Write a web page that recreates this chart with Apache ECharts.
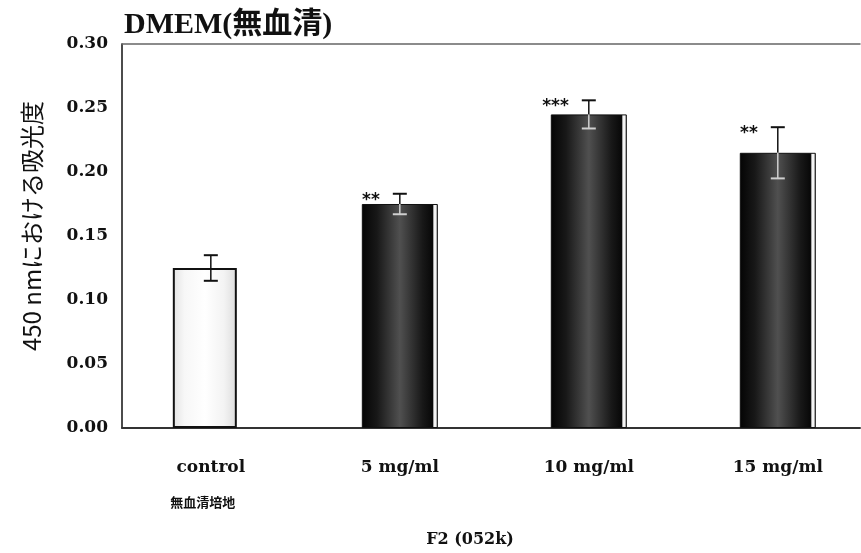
<!DOCTYPE html>
<html>
<head>
<meta charset="utf-8">
<script src="https://cdn.jsdelivr.net/npm/echarts@6/dist/echarts.min.js"></script>
<style>
  html, body { margin: 0; padding: 0; background: #fff; }
  #chart { width: 861px; height: 553px; }
</style>
</head>
<body>
<div id="chart"></div>
<script>
// Absorbance at 450 nm, DMEM without serum, F2 (052k) doses
const categories = ['control', '5 mg/ml', '10 mg/ml', '15 mg/ml'];
const subLabels = ['無血清培地', '', '', ''];
const absorbance = [0.125, 0.175, 0.245, 0.215];
const errors = [0.010, 0.008, 0.011, 0.020];
const significance = ['', '**', '***', '**'];

const titleSerif = '"Liberation Serif", "DejaVu Serif", "Noto Sans CJK JP", serif';
const serif = '"DejaVu Serif", "Liberation Serif", "Noto Sans CJK JP", serif';
const gothic = '"Noto Sans CJK JP", "Noto Sans", sans-serif';

const chart = echarts.init(document.getElementById('chart'));

// control bar: white with a faint grey stipple near its edges
const controlFill = new echarts.graphic.LinearGradient(0, 0, 1, 0, [
  { offset: 0, color: '#e2e2e2' },
  { offset: 0.18, color: '#f7f7f7' },
  { offset: 0.5, color: '#ffffff' },
  { offset: 0.8, color: '#f3f3f3' },
  { offset: 1, color: '#dcdcdc' }
]);
// treated bars: black edges, mottled grey middle, thin light strip at the right
const doseFill = new echarts.graphic.LinearGradient(0, 0, 1, 0, [
  { offset: 0, color: '#040404' },
  { offset: 0.2, color: '#181818' },
  { offset: 0.5, color: '#505050' },
  { offset: 0.8, color: '#181818' },
  { offset: 0.93, color: '#080808' },
  { offset: 0.95, color: '#f4f4f4' },
  { offset: 0.98, color: '#f4f4f4' },
  { offset: 1, color: '#000000' }
]);

const categoryIndex = categories.map((c, i) => i);
const controlData = absorbance.map((v, i) => i === 0 ? [i, v] : [i, '-']);
const doseData = absorbance.map((v, i) => i === 0 ? [i, '-'] : [i, v]);
const errData = absorbance.map((v, i) => [i, v, errors[i]]);

const xMin = -0.47;
const xMax = 3.435;

const option = {
  animation: false,
  backgroundColor: '#ffffff',
  title: {
    text: 'DMEM(無血清)',
    left: 119,
    top: 5,
    textStyle: { fontFamily: titleSerif, fontSize: 30, fontWeight: 'bold', color: '#111' }
  },
  grid: { left: 122, right: 1, top: 44, bottom: 121 },
  xAxis: [
    {
      type: 'value',
      min: xMin,
      max: xMax,
      position: 'bottom',
      name: 'F2 (052k)',
      nameLocation: 'middle',
      nameGap: 104,
      nameTextStyle: { fontFamily: serif, fontSize: 16, fontWeight: 'bold', color: '#111', padding: [0, 42, 0, 0] },
      axisLine: { show: true, onZero: false, lineStyle: { color: '#333', width: 2 } },
      axisTick: { show: false },
      splitLine: { show: false },
      axisLabel: {
        customValues: categoryIndex,
        margin: 24,
        formatter: function (v) {
          const i = Math.round(v);
          if (i < 0 || i >= categories.length) return '';
          return subLabels[i] ? categories[i] + '\n{s|' + subLabels[i] + '}' : categories[i];
        },
        color: '#111',
        fontFamily: serif,
        fontSize: 17,
        fontWeight: 'bold',
        lineHeight: 32,
        rich: {
          s: { fontFamily: gothic, fontSize: 13, fontWeight: 'bold', color: '#111', padding: [4, 16, 0, 0] }
        }
      }
    },
    {
      type: 'value',
      min: xMin,
      max: xMax,
      position: 'top',
      axisLine: { show: true, onZero: false, lineStyle: { color: '#666', width: 1.5 } },
      axisTick: { show: false },
      axisLabel: { show: false },
      splitLine: { show: false }
    }
  ],
  yAxis: {
    type: 'value',
    min: 0,
    max: 0.3,
    interval: 0.05,
    name: '450 nmにおける吸光度',
    nameLocation: 'middle',
    nameGap: 78,
    nameRotate: 90,
    nameTextStyle: { fontFamily: gothic, fontSize: 24, color: '#111', padding: [0, 0, 0, 20] },
    axisLine: { show: true, onZero: false, lineStyle: { color: '#111', width: 1.5 } },
    axisTick: { show: false },
    splitLine: { show: false },
    axisLabel: {
      margin: 14,
      formatter: v => v.toFixed(2),
      fontFamily: serif,
      fontSize: 17,
      fontWeight: 'bold',
      color: '#111'
    }
  },
  series: [
    {
      type: 'bar',
      data: controlData,
      barWidth: 64,
      itemStyle: { color: controlFill, borderColor: '#111', borderWidth: 2 }
    },
    {
      type: 'bar',
      data: doseData,
      barWidth: 76,
      barGap: '-100%',
      itemStyle: { color: doseFill, borderColor: '#111', borderWidth: 1 }
    },
    {
      type: 'custom',
      data: errData,
      z: 10,
      renderItem: function (params, api) {
        const i = params.dataIndex;
        const x = api.value(0);
        const y = api.value(1);
        const e = api.value(2);
        const sig = significance[i];
        const top = api.coord([x, y + e]);
        const bot = api.coord([x, y - e]);
        const mid = api.coord([x, y]);
        const half = 7;
        const inside = i === 0 ? '#111' : '#cfcfcf';
        const children = [
          { type: 'line', shape: { x1: top[0], y1: top[1], x2: mid[0], y2: mid[1] },
            style: { stroke: '#111', lineWidth: 1.5 } },
          { type: 'line', shape: { x1: mid[0], y1: mid[1], x2: bot[0], y2: bot[1] },
            style: { stroke: inside, lineWidth: 1.5 } },
          { type: 'line', shape: { x1: top[0] - half, y1: top[1], x2: top[0] + half, y2: top[1] },
            style: { stroke: '#111', lineWidth: 2 } },
          { type: 'line', shape: { x1: bot[0] - half, y1: bot[1], x2: bot[0] + half, y2: bot[1] },
            style: { stroke: inside, lineWidth: 2 } }
        ];
        if (sig) {
          children.push({
            type: 'text',
            style: {
              text: sig,
              x: top[0] - 20,
              y: top[1] - 2,
              align: 'right',
              verticalAlign: 'top',
              fontFamily: '"DejaVu Sans", sans-serif',
              fontSize: 17,
              fontWeight: 'bold',
              fill: '#111'
            }
          });
        }
        return { type: 'group', children: children };
      }
    }
  ]
};

chart.setOption(option);
</script>
</body>
</html>
